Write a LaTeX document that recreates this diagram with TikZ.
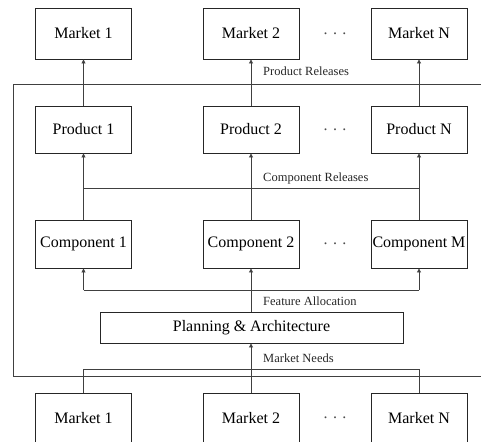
\documentclass[tikz,border=0pt]{standalone}
\usepackage{fontspec}
\setmainfont{Liberation Serif}
\usetikzlibrary{arrows.meta,positioning,calc}

\begin{document}
\begin{tikzpicture}[x=1pt, y=-1pt,
    box/.style={draw=black!85, line width=0.9pt, minimum width=96pt, inner sep=0pt, font=\fontsize{16}{18}\selectfont},
    link/.style={draw=black!75, line width=0.8pt},
    up/.style={link, -{Triangle[length=4pt,width=4pt]}},
    lbl/.style={anchor=west, inner sep=0pt, font=\fontsize{12.5}{14}\selectfont, text=black!85},
    dots/.style={inner sep=0pt, font=\fontsize{16}{18}\selectfont, text=black!70}]
  \useasboundingbox (0,0) rectangle (481,441);

  % --- outer frame (right edge lies past the picture) ---
  \draw[link] (490,84) -- (13,84) -- (13,376) -- (490,376);

  % --- rows of boxes ---
  \foreach \i/\x/\t in {1/83.5/1, 2/251/2, 3/419/N} {
    \node[box, minimum height=51pt] (mt\i) at (\x,33.5) {Market \t};
    \node[box, minimum height=47pt] (p\i) at (\x,129.5) {Product \t};
    \node[box, minimum height=50pt] (mb\i) at (\x,418) {Market \t};
  }
  \foreach \i/\x/\t in {1/83.5/1, 2/251/2, 3/419/M} {
    \node[box, minimum height=48pt] (c\i) at (\x,244) {Component \t};
  }
  \node[box, minimum width=303pt, minimum height=31pt] (plan) at (251.5,327.5) {Planning \& Architecture};

  % dots between 2nd and last box
  \foreach \y/\n in {33.5/a, 129.5/b, 244/c, 418/d} {
    \node[dots] (dots\n) at (335,\y) {.\,\,.\,\,.};
  }

  % --- product releases ---
  \foreach \i in {1,2,3} {
    \draw[up] (p\i) -- (mt\i);
  }
  \node[lbl] (prl) at (263,71) {Product Releases};

  % --- component releases ---
  \coordinate (crl) at (0,188);
  \draw[link] (c1.north |- crl) -- (c3.north |- crl);
  \foreach \i in {1,2,3} {
    \draw[link] (c\i.north) -- (c\i.north |- crl);
    \draw[up] (c\i.north |- crl) -- (p\i.south);
  }
  \node[lbl] (crel) at (263,178) {Component Releases};

  % --- feature allocation ---
  \coordinate (fal) at (0,290);
  \draw[link] (c1.south |- fal) -- (c3.south |- fal);
  \draw[link] (plan.north -| c2) -- (c2.south |- fal);
  \foreach \i in {1,2,3} {
    \draw[up] (c\i.south |- fal) -- (c\i.south);
  }
  \node[lbl] (fall) at (263,301) {Feature Allocation};

  % --- market needs ---
  \coordinate (mnl) at (0,369);
  \draw[link] (mb1.north |- mnl) -- (mb3.north |- mnl);
  \draw[link] (mb1.north) -- (mb1.north |- mnl);
  \draw[link] (mb3.north) -- (mb3.north |- mnl);
  \draw[up] (mb2.north) -- (plan.south -| mb2);
  \node[lbl] (mneed) at (263,358) {Market Needs};
\end{tikzpicture}
\end{document}
